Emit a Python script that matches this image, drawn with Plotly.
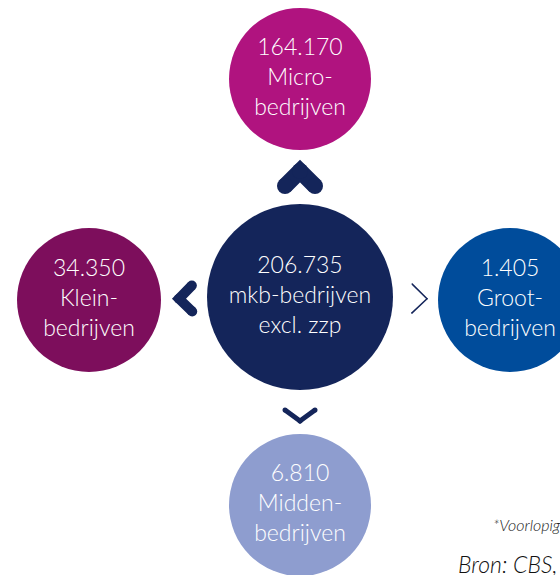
import math
import plotly.graph_objects as go

# ---- data ----
categories = ["mkb", "micro", "klein", "midden", "groot"]
values = [206735, 164170, 34350, 6810, 1405]
label_lines = [
    ["mkb-bedrijven", "excl. zzp"],
    ["Micro-", "bedrijven"],
    ["Klein-", "bedrijven"],
    ["Midden-", "bedrijven"],
    ["Groot-", "bedrijven"],
]
footnote = "*Voorlopige cijfers"
source = "Bron: CBS, 2023"

# ---- layout / style (pixel space) ----
W, H = 560, 575
pos = {
    "mkb": (300, 297, 93),
    "micro": (300, 79, 71),
    "klein": (89, 300, 72),
    "midden": (300, 505, 71),
    "groot": (510, 300, 72),
}
colors = {
    "mkb": "#14255A",
    "micro": "#B0137F",
    "klein": "#7D0E5C",
    "midden": "#8E9DCF",
    "groot": "#004C9B",
}
# arrow style: apex distance from centre circle centre, depth, half width, stroke
arrow_style = {
    "micro": (126, 15, 15, 16),
    "klein": (121, 13, 13, 10),
    "midden": (124, 11, 15, 5),
    "groot": (127, 15, 14.5, 1.5),
}
arrow_color = "#14255A"
FONT = "Lato"


def fmt(v):
    return f"{v:,}".replace(",", ".")


fig = go.Figure()

# circles
for c in categories:
    cx, cy, r = pos[c]
    fig.add_trace(go.Scatter(
        x=[cx], y=[cy], mode="markers",
        marker=dict(size=2 * r, color=colors[c], line=dict(width=0)),
        hoverinfo="skip", showlegend=False,
    ))

# text in circles
for c, v, lines in zip(categories, values, label_lines):
    cx, cy, r = pos[c]
    fig.add_trace(go.Scatter(
        x=[cx], y=[cy], mode="text",
        text=["<br>".join([fmt(v)] + lines)],
        textposition="middle center",
        textfont=dict(family=FONT, size=23, color="white", weight=300),
        hoverinfo="skip", showlegend=False,
    ))

# chevron arrows
mx, my, _ = pos["mkb"]
for c in categories[1:]:
    sx, sy, _ = pos[c]
    dx, dy = sx - mx, sy - my
    L = math.hypot(dx, dy)
    ux, uy = dx / L, dy / L
    px, py = -uy, ux
    apex_d, depth, hw, sw = arrow_style[c]
    ax, ay = mx + ux * apex_d, my + uy * apex_d
    bx, by = ax - ux * depth, ay - uy * depth
    xs = [bx + px * hw, ax, bx - px * hw]
    ys = [by + py * hw, ay, by - py * hw]
    fig.add_trace(go.Scatter(
        x=xs, y=ys, mode="lines+markers",
        line=dict(color=arrow_color, width=sw),
        marker=dict(size=sw, color=arrow_color, line=dict(width=0)),
        hoverinfo="skip", showlegend=False,
    ))

fig.add_annotation(
    x=491, y=524, xref="x", yref="y", text=footnote, showarrow=False,
    xanchor="left", yanchor="middle",
    font=dict(family=FONT, size=16, color="#222222", style="italic", weight=300),
)
fig.add_annotation(
    x=456, y=564, xref="x", yref="y", text=source, showarrow=False,
    xanchor="left", yanchor="middle",
    font=dict(family=FONT, size=23, color="#111111", style="italic", weight=300),
)

fig.update_layout(
    width=W, height=H,
    margin=dict(l=0, r=0, t=0, b=0),
    paper_bgcolor="white", plot_bgcolor="white",
    xaxis=dict(range=[0, W], visible=False, fixedrange=True),
    yaxis=dict(range=[H, 0], visible=False, fixedrange=True),
    hovermode=False,
)

fig.write_html(
    "out.html",
    config={"displayModeBar": False},
    post_script="document.body.style.margin='0';document.body.style.overflow='hidden';",
)
